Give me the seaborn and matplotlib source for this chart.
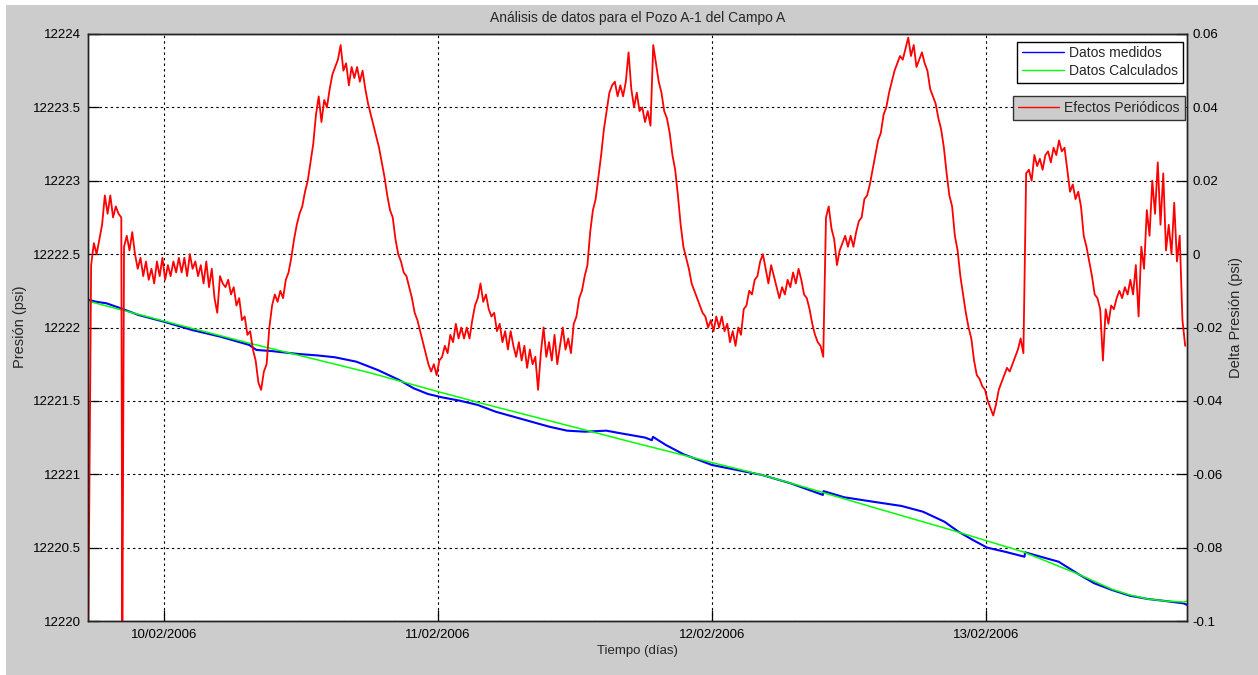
import numpy as np
import pandas as pd
import matplotlib
matplotlib.use("Agg")
import matplotlib.pyplot as plt
import matplotlib.dates as mdates
from matplotlib.lines import Line2D
from matplotlib.patches import Rectangle
import seaborn as sns

# ---------------------------------------------------------------------------
# Data (time in days after 10/02/2006 00:00)
# ---------------------------------------------------------------------------
ORIGIN = pd.Timestamp("2006-02-10")

# Periodic effects (delta pressure), sampled every 0.01 day, in milli-psi
delta_start_day = -0.275
delta_step_day = 0.01
delta_mpsi = [
    -100, -3, 3, 0, 4, 8, 16, 11, 16, 10,
    13, 11, 10, 2, 5, 1, 6, 0, -4, -1,
    -6, -2, -7, -4, -8, -2, -6, -1, -7, -3,
    -6, -2, -5, -1, -5, -1, -6, 0, -4, -2,
    -6, -3, -8, -2, -9, -4, -12, -16, -6, -8,
    -9, -7, -11, -9, -14, -12, -18, -17, -22, -21,
    -26, -29, -35, -37, -32, -30, -20, -14, -11, -13,
    -10, -12, -7, -5, -1, 4, 8, 11, 13, 17,
    20, 25, 30, 38, 43, 36, 42, 40, 45, 49,
    51, 53, 57, 50, 52, 46, 51, 48, 51, 47,
    50, 45, 41, 38, 35, 32, 29, 25, 21, 16,
    12, 10, 4, 0, -2, -5, -6, -9, -12, -16,
    -18, -21, -24, -27, -30, -32, -30, -33, -29, -28,
    -25, -27, -22, -24, -19, -23, -20, -23, -20, -23,
    -18, -14, -12, -8, -13, -11, -15, -17, -16, -21,
    -19, -24, -21, -26, -21, -25, -28, -24, -29, -25,
    -31, -26, -30, -28, -37, -27, -20, -28, -24, -29,
    -22, -30, -25, -20, -26, -23, -27, -19, -17, -12,
    -10, -6, -3, 6, 12, 15, 21, 27, 34, 39,
    44, 46, 47, 43, 46, 43, 47, 55, 45, 40,
    44, 39, 40, 36, 39, 35, 57, 52, 47, 44,
    39, 37, 33, 27, 23, 16, 8, 2, -1, -4,
    -8, -10, -12, -14, -16, -17, -20, -18, -21, -17,
    -20, -17, -21, -19, -24, -21, -25, -20, -22, -15,
    -14, -10, -11, -7, -6, -2, 0, -4, -8, -3,
    -6, -9, -12, -9, -11, -7, -9, -5, -8, -4,
    -7, -11, -12, -15, -19, -22, -24, -25, -28, 10,
    13, 7, 4, -3, 1, 3, 5, 2, 5, 2,
    6, 9, 10, 15, 16, 19, 23, 27, 31, 33,
    38, 40, 44, 47, 50, 52, 54, 53, 56, 59,
    54, 57, 51, 53, 55, 52, 50, 45, 43, 41,
    37, 34, 29, 22, 16, 13, 5, 1, -6, -11,
    -16, -20, -23, -29, -33, -34, -36, -37, -40, -42,
    -44, -41, -37, -35, -33, -31, -32, -30, -28, -26,
    -23, -27, 22, 23, 20, 27, 24, 26, 23, 27,
    28, 25, 29, 27, 31, 28, 29, 23, 17, 19,
    15, 17, 13, 5, 2, -2, -6, -11, -12, -15,
    -29, -15, -19, -14, -15, -12, -10, -12, -9, -11,
    -7, -11, -3, -17, 2, -4, 12, 5, 20, 11,
    25, 8, 22, 1, 8, 0, 14, -2, 5, -18,
    -25,
]
# Isolated drop-out of the delta signal
dropout_day = [-0.1515, -0.1508]
dropout_mpsi = [-100, -100]

# Measured pressure (psi)
meas_day = [-0.2764, -0.2760, -0.2484, -0.2093, -0.1572, -0.0919, -0.0007,
            0.1028, 0.2075, 0.3118, 0.3377, 0.3899, 0.4942, 0.5587, 0.6244,
            0.7024, 0.7808, 0.8589, 0.911, 0.9632, 1.015, 1.0802, 1.1455,
            1.2104, 1.2757, 1.3406, 1.4059, 1.4708, 1.5361, 1.6141, 1.6663,
            1.7002, 1.7549, 1.7800, 1.7840, 1.8304, 1.8957, 1.9993, 2.0905,
            2.1816, 2.2863, 2.4037, 2.4060, 2.4818, 2.5861, 2.69, 2.7684,
            2.8465, 2.8986, 2.9508, 3.0026, 3.0678, 3.139, 3.1410, 3.1981,
            3.2633, 3.3414, 3.3935, 3.4584, 3.5237, 3.589, 3.6539, 3.7192,
            3.7316]
meas_psi = [12222.02, 12222.19, 12222.176, 12222.165, 12222.131, 12222.085,
            12222.04, 12221.983, 12221.937, 12221.881, 12221.847, 12221.84,
            12221.819, 12221.81, 12221.797, 12221.767, 12221.71, 12221.642,
            12221.586, 12221.547, 12221.524, 12221.501, 12221.472, 12221.426,
            12221.392, 12221.358, 12221.324, 12221.297, 12221.29, 12221.297,
            12221.279, 12221.268, 12221.25, 12221.232, 12221.255, 12221.2,
            12221.136, 12221.063, 12221.029, 12220.995, 12220.938, 12220.859,
            12220.885, 12220.843, 12220.813, 12220.784, 12220.745, 12220.677,
            12220.608, 12220.552, 12220.5, 12220.472, 12220.438, 12220.468,
            12220.438, 12220.404, 12220.313, 12220.257, 12220.211, 12220.172,
            12220.15, 12220.136, 12220.12, 12220.11]

# Calculated pressure (psi)
calc_day = [-0.2764, 0.0, 0.3118, 0.4942, 0.7546, 1.0, 1.1455, 1.5361, 1.7002,
            1.8957, 2.0, 2.1816, 2.3516, 2.612, 2.8724, 3.0, 3.1331, 3.3282,
            3.4581, 3.5237, 3.589, 3.6539, 3.7192, 3.7316]
calc_psi = [12222.18, 12222.044, 12221.893, 12221.81, 12221.69, 12221.563,
            12221.49, 12221.302, 12221.222, 12221.13, 12221.079, 12220.995,
            12220.904, 12220.761, 12220.62, 12220.547, 12220.472, 12220.325,
            12220.216, 12220.177, 12220.150, 12220.136, 12220.129, 12220.135]

x_ticks = ["2006-02-10", "2006-02-11", "2006-02-12", "2006-02-13"]
left_ticks = [12220, 12220.5, 12221, 12221.5, 12222, 12222.5, 12223, 12223.5, 12224]
right_ticks = [-0.1, -0.08, -0.06, -0.04, -0.02, 0, 0.02, 0.04, 0.06]
right_labels = ["-0.1", "-0.08", "-0.06", "-0.04", "-0.02", "0", "0.02", "0.04", "0.06"]

x_start_day, x_end_day = -0.2764, 3.7316


def to_time(days):
    return ORIGIN + pd.to_timedelta(np.asarray(days, dtype=float), unit="D")


delta_days = np.concatenate([delta_start_day + delta_step_day * np.arange(len(delta_mpsi)),
                             dropout_day])
delta_vals = np.concatenate([delta_mpsi, dropout_mpsi]) / 1000.0
order = np.argsort(delta_days, kind="stable")
delta_df = pd.DataFrame({"fecha": to_time(delta_days[order]),
                         "delta": delta_vals[order]})
meas_df = pd.DataFrame({"fecha": to_time(meas_day), "presion": meas_psi})
calc_df = pd.DataFrame({"fecha": to_time(calc_day), "presion": calc_psi})

# ---------------------------------------------------------------------------
# Figure
# ---------------------------------------------------------------------------
sns.set_style("white")
plt.rcParams["font.family"] = ["Liberation Sans", "DejaVu Sans"]

W, H = 1258, 675
BG = "#cccccc"
fig = plt.figure(figsize=(W / 100, H / 100), dpi=100, facecolor=BG)
fig.patches.append(Rectangle((0, 1 - 5 / H), 1, 5 / H, transform=fig.transFigure,
                             facecolor="white", edgecolor="none", zorder=-1))
fig.patches.append(Rectangle((0, 0), 6 / W, 1, transform=fig.transFigure,
                             facecolor="white", edgecolor="none", zorder=-1))

ax = fig.add_axes([88 / W, 1 - 621 / H, 1099 / W, 587 / H])
ax.set_facecolor("white")
ax2 = ax.twinx()

sns.lineplot(data=calc_df, x="fecha", y="presion", ax=ax, color="#00ff00",
             lw=1.1, legend=False, sort=False)
sns.lineplot(data=meas_df, x="fecha", y="presion", ax=ax, color="#0000ff",
             lw=1.5, legend=False, sort=False)
ax.lines[0].set_zorder(3)
sns.lineplot(data=delta_df, x="fecha", y="delta", ax=ax2, color="#ff0000",
             lw=1.3, legend=False, sort=False)

ax.set_xlim(to_time([x_start_day])[0], to_time([x_end_day])[0])
ax.set_ylim(12220, 12224)
ax2.set_ylim(-0.1, 0.06)

ax.set_xticks(pd.to_datetime(x_ticks))
ax.xaxis.set_major_formatter(mdates.DateFormatter("%d/%m/%Y"))
ax.set_yticks(left_ticks)
ax.set_yticklabels(["%g" % v for v in left_ticks])
ax2.set_yticks(right_ticks)
ax2.set_yticklabels(right_labels)

ax.set_xlabel("")
ax.set_ylabel("")
ax2.set_xlabel("")
ax2.set_ylabel("")

grid_style = dict(color="black", linestyle=(0, (2.2, 2.8)), linewidth=0.8)
ax.grid(True, **grid_style)
ax2.grid(False)

ax.tick_params(axis="both", which="major", direction="in", length=8, width=0.9,
               colors="black", labelsize=9.5, bottom=True, left=True,
               top=False, right=False)
ax.tick_params(axis="x", pad=6)
ax.tick_params(axis="y", pad=5)
ax2.tick_params(axis="y", which="major", direction="in", length=8, width=0.9,
                colors="black", labelsize=9.5, right=True, left=False, pad=4)

for a in (ax, ax2):
    for s in a.spines.values():
        s.set_visible(True)
        s.set_color("#222222")
        s.set_linewidth(1.0)

# Legends
leg_kw = dict(loc="upper right", bbox_transform=fig.transFigure, frameon=True,
              fancybox=False, framealpha=1, borderaxespad=0, handlelength=3.0,
              handletextpad=0.35, labelspacing=0.25, borderpad=0.35,
              fontsize=10)
h1 = [Line2D([], [], color="#0000ff", lw=1.0), Line2D([], [], color="#00ff00", lw=1.0)]
leg1 = ax.legend(h1, ["Datos medidos", "Datos Calculados"],
                 bbox_to_anchor=(1182.5 / W, 1 - 41.5 / H),
                 facecolor="white", edgecolor="black", **leg_kw)
leg1.get_frame().set_linewidth(1.0)
leg1.set_zorder(10)
h2 = [Line2D([], [], color="#ff0000", lw=1.0)]
leg2 = ax2.legend(h2, ["Efectos Periódicos"],
                  bbox_to_anchor=(1184.5 / W, 1 - 96 / H),
                  facecolor=BG, edgecolor="#333333", **leg_kw)
leg2.get_frame().set_linewidth(1.0)

# Titles and axis labels
fig.text(637.5 / W, 1 - 18 / H, "Análisis de datos para el Pozo A-1 del Campo A",
         ha="center", va="center", fontsize=10)
fig.text(637.5 / W, 1 - 651 / H, "Tiempo (días)", ha="center", va="center",
         fontsize=9.5)
fig.text(20 / W, 1 - 327 / H, "Presión (psi)", ha="center", va="center",
         rotation=90, fontsize=10.5)
fig.text(1236 / W, 1 - 318 / H, "Delta Presión (psi)", ha="center", va="center",
         rotation=90, fontsize=10.5)

fig.savefig("out.png", dpi=100, facecolor=BG)
